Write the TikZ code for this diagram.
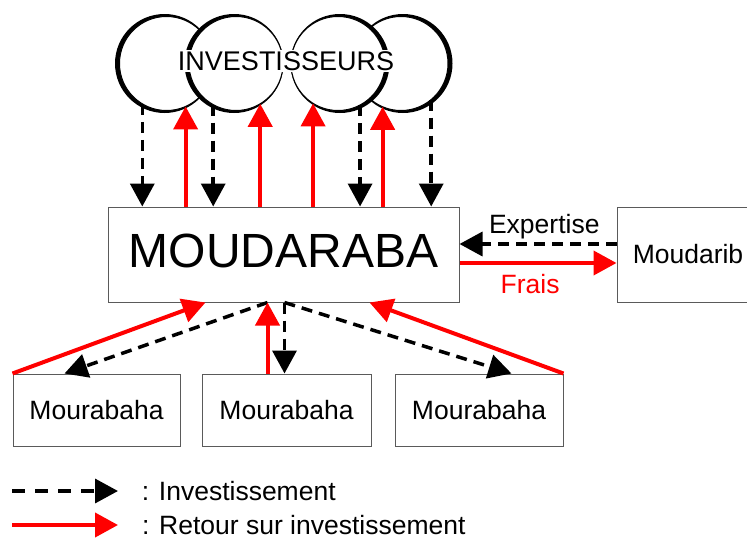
\documentclass[tikz,border=0pt]{standalone}
\usepackage{fontspec}
\setmainfont{Liberation Sans}
\usetikzlibrary{arrows.meta}

\begin{document}
\begin{tikzpicture}[x=1pt, y=-1pt, font=\fontsize{26.5}{30}\selectfont,
  box/.style={draw={rgb,255:red,90;green,90;blue,90}, line width=1pt, fill=white, inner sep=0pt},
  cloud/.style={circle, draw=black, line width=1pt, fill=white, minimum size=94pt, inner sep=0pt, outer sep=0pt},
  invest/.style={draw=black, line width=3.5pt, dash pattern=on 11pt off 7pt, -{Triangle[width=24pt,length=23pt]}},
  retour/.style={draw=red, line width=4pt, -{Triangle[width=24pt,length=23pt]}}]
  \useasboundingbox (0,0) rectangle (747,541);
  \fill (164.5,63.5) circle[radius=49.5pt];
  \node[cloud] (c1) at (166.5,63.5) {};
  \fill (403,63.5) circle[radius=49.5pt];
  \node[cloud] (c4) at (401,63.5) {};
  \fill (234,63.5) circle[radius=49.5pt];
  \node[cloud] (c2) at (236,63.5) {};
  \fill (340,63.5) circle[radius=49.5pt];
  \node[cloud] (c3) at (338,63.5) {};
  \node[fill=white, inner sep=1pt, font=\fontsize{27}{30}\selectfont] (inv) at (286,61) {INVESTISSEURS};

  \node[box, minimum width=351pt, minimum height=95pt, text depth=8pt, font=\fontsize{48}{50}\selectfont] (moudaraba) at (283.5,254.5) {MOUDARABA};
  \node[box, minimum width=142pt, minimum height=95pt] (moudarib) at (688,254.5) {Moudarib};
  \node[box, minimum width=167pt, minimum height=72pt] (m1) at (96.5,410) {Mourabaha};
  \node[box, minimum width=169pt, minimum height=72pt] (m2) at (286.5,410) {Mourabaha};
  \node[box, minimum width=168pt, minimum height=72pt] (m3) at (479,410) {Mourabaha};

  \draw[invest] (c1.239) -- (c1.239 |- moudaraba.north);
  \draw[retour] (c1.294 |- moudaraba.north) -- (c1.294);
  \draw[invest] (c2.241) -- (c2.241 |- moudaraba.north);
  \draw[retour] (c2.301 |- moudaraba.north) -- (c2.301);
  \draw[retour] (c3.238 |- moudaraba.north) -- (c3.238);
  \draw[invest] (c3.298) -- (c3.298 |- moudaraba.north);
  \draw[retour] (c4.247 |- moudaraba.north) -- (c4.247);
  \draw[invest] (c4.310) -- (c4.310 |- moudaraba.north);

  \draw[retour] (m1.north west) -- ([xshift=98pt]moudaraba.south west);
  \draw[invest] ([xshift=160pt]moudaraba.south west) -- ([xshift=52pt]m1.north west);
  \draw[retour] ([xshift=66pt]m2.north west) -- ([xshift=160pt]moudaraba.south west);
  \draw[invest] ([xshift=177pt]moudaraba.south west) -- ([xshift=83pt]m2.north west);
  \draw[invest] ([xshift=177pt]moudaraba.south west) -- ([xshift=117pt]m3.north west);
  \draw[retour] (m3.north east) -- ([xshift=262pt]moudaraba.south west);

  \coordinate (ex) at ([yshift=10.5pt]moudarib.west);
  \draw[invest] (ex) -- (ex -| moudaraba.east) node[pos=0.46, above=1pt, inner sep=2pt] (expertise) {Expertise};
  \coordinate (fr) at ([yshift=-8.5pt]moudaraba.east);
  \draw[retour] (fr) -- (fr -| moudarib.west) node[pos=0.45, below=7pt, inner sep=2pt, red] (frais) {Frais};

  \coordinate (la) at (12,491);
  \coordinate (lb) at (118,491);
  \draw[invest, dash pattern=on 13pt off 10pt] (la) -- (lb) node[right=22pt, inner sep=0pt] (linv) {: Investissement};
  \coordinate (lc) at (12,525);
  \coordinate (ld) at (118,525);
  \draw[retour] (lc) -- (ld) node[right=22pt, inner sep=0pt] (lret) {: Retour sur investissement};
\end{tikzpicture}
\end{document}
